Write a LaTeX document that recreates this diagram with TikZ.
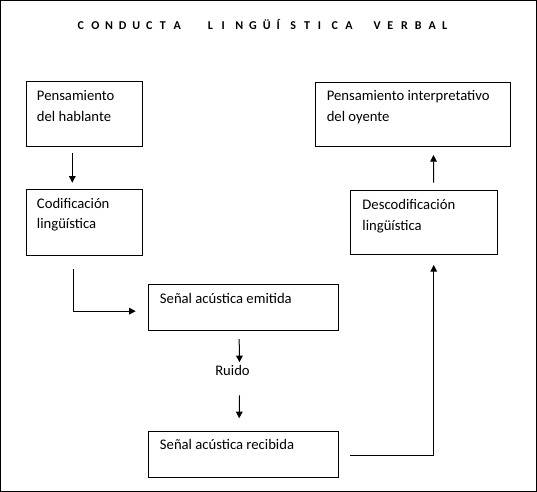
\documentclass[tikz,border=0pt]{standalone}
\usepackage{fontspec}
\setmainfont{Carlito}
\usetikzlibrary{calc,arrows.meta}
\newcommand{\tlet}[1]{\makebox[10.3pt][l]{#1}}
\begin{document}
\begin{tikzpicture}[x=0.75pt,y=-0.75pt,
  box/.style={draw, line width=0.75pt, inner sep=0pt, outer sep=0pt, anchor=north west},
  txt/.style={anchor=base west, inner sep=0pt, align=left, font=\fontsize{11pt}{15.75pt}\selectfont},
  ttl/.style={anchor=base west, inner sep=0pt, font=\bfseries\fontsize{9pt}{10pt}\selectfont},
  arr/.style={line width=0.75pt, -{Triangle[length=5pt,width=5pt]}},
  frame/.style={draw, line width=1pt}]
\useasboundingbox (0,0) rectangle (537,492);
\draw[frame] (0.7,0.7) rectangle (536.2,491.3);
% title
\node[ttl] (t1) at (77.3,29.3) {\tlet{C}\tlet{O}\tlet{N}\tlet{D}\tlet{U}\tlet{C}\tlet{T}\tlet{A}};
\node[ttl] (t2) at (207.7,29.3) {\tlet{L}\tlet{I}\tlet{N}\tlet{G}\tlet{Ü}\tlet{Í}\tlet{S}\tlet{T}\tlet{I}\tlet{C}\tlet{A}};
\node[ttl] (t3) at (373.3,29.3) {\tlet{V}\tlet{E}\tlet{R}\tlet{B}\tlet{A}\tlet{L}};
% boxes
\node[box, minimum width=87.3pt, minimum height=48.45pt] (b1) at (26.3,81.7) {};
\node[box, minimum width=146.5pt, minimum height=48pt] (b2) at (315,82.3) {};
\node[box, minimum width=87.3pt, minimum height=49.3pt] (b3) at (26.3,189.3) {};
\node[box, minimum width=110pt, minimum height=48.5pt] (b4) at (350.7,190.3) {};
\node[box, minimum width=142.3pt, minimum height=34.3pt] (b5) at (148.3,284.3) {};
\node[box, minimum width=142.3pt, minimum height=34.2pt] (b6) at (148.3,431.7) {};
% texts (base anchor = last line)
\node[txt] (l1) at ($(b1.north west)+(10.4,39.5)$) {Pensamiento\\del hablante};
\node[txt] (l2) at ($(b2.north west)+(11.5,39)$) {Pensamiento interpretativo\\del oyente};
\node[txt] (l3) at ($(b3.north west)+(10.4,39.7)$) {Codificación\\lingüística};
\node[txt] (l4) at ($(b4.north west)+(11.5,40.5)$) {Descodificación\\lingüística};
\node[txt] (l5) at ($(b5.north west)+(11.4,19)$) {Señal acústica emitida};
\node[txt] (l6) at ($(b6.north west)+(11.4,17.8)$) {Señal acústica recibida};
\node[txt] (ruido) at (215,375.7) {Ruido};
% connectors
\draw[arr] ($(b1.south west)+(46,7)$) -- ($(b3.north west)+(46,-6.6)$);
\draw[arr] ($(b3.south west)+(47,14)$) |- ($(b5.west)+(-12.6,4)$);
\draw[arr] ($(b5.south)+(-4,9)$) -- ($(ruido.north)+(7,-3)$);
\draw[arr] ($(ruido.south)+(7,19.3)$) -- ($(b6.north)+(-4,-13.4)$);
\draw[arr] ($(b6.east)+(12,1.2)$) -| ($(b4.south)+(9.7,10)$);
\draw[arr] ($(b4.north)+(9.6,-7.6)$) -- ($(b2.south)+(20.8,8.7)$);
\end{tikzpicture}
\end{document}
